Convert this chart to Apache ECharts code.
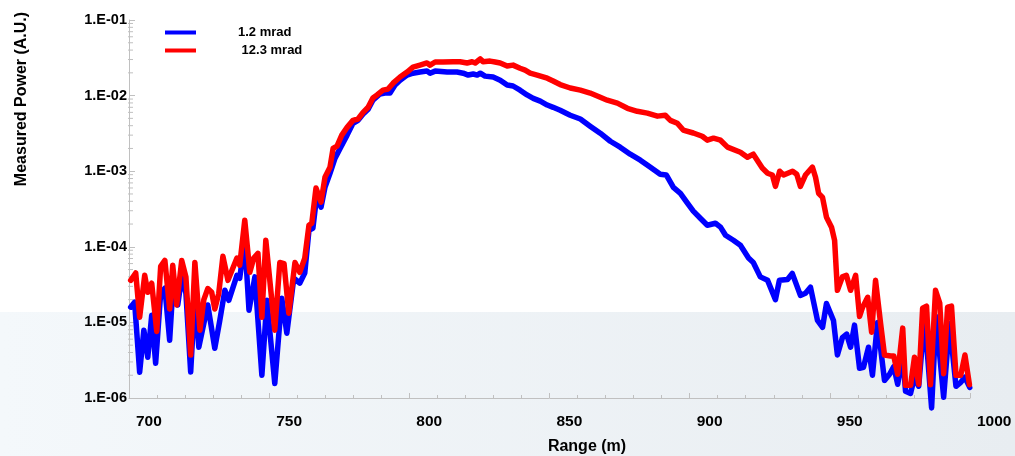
<!DOCTYPE html>
<html>
<head>
<meta charset="utf-8">
<script src="https://cdn.jsdelivr.net/npm/echarts@6/dist/echarts.min.js"></script>
<style>
  html, body { margin: 0; padding: 0; background: #fff; }
  #chart { width: 1015px; height: 456px; }
</style>
</head>
<body>
<div id="chart"></div>
<script>
// Range (m) and measured power (A.U.) for the two beam divergences
const blueRange = [700.6,702.0,703.8,705.3,706.7,708.1,709.5,711.3,712.8,714.5,715.6,717.4,718.8,720.3,722.0,723.5,724.9,728.1,730.6,732.4,734.2,735.6,738.5,739.5,741.3,742.8,744.9,747.4,749.2,752.0,754.5,756.3,758.8,760.9,762.7,764.2,765.6,767.0,768.5,769.9,771.7,773.5,775.3,777.8,779.9,781.7,783.5,785.3,787.0,789.5,791.3,793.1,794.9,796.7,799.2,801.3,803.8,806.3,807.4,809.2,813.5,817.0,819.2,821.0,822.8,824.2,825.3,827.0,829.9,832.4,834.9,837.0,839.5,842.0,844.2,846.7,849.2,851.3,853.8,857.4,861.0,864.5,868.1,871.7,875.2,878.8,882.4,886.0,889.5,891.7,894.2,896.7,899.2,901.3,903.8,906.3,909.2,911.0,912.8,915.6,918.1,921.0,922.7,925.2,927.8,930.6,932.0,934.9,936.6,939.5,941.3,943.1,945.6,947.4,948.8,951.3,952.7,954.5,956.0,957.4,958.8,960.6,962.0,963.8,965.2,967.0,969.5,971.3,972.8,974.2,976.0,977.0,978.8,980.2,981.7,983.8,986.3,987.9,990.6,992.7,995.0,996.7,998.2,999.9];
const bluePower = [1.59e-5,1.85e-5,2.19e-6,7.9e-6,3.46e-6,1.24e-5,2.88e-6,2.43e-5,2.83e-5,5.8e-6,2.66e-5,1.7e-5,4.0e-5,2.43e-5,2.2e-6,2.28e-5,4.7e-6,1.7e-5,4.55e-6,1.07e-5,2.66e-5,1.96e-5,4.2e-5,3.84e-5,1.22e-4,1.45e-5,4.0e-5,2.0e-6,1.96e-5,1.56e-6,2.09e-5,7.2e-6,3.84e-5,3.3e-5,4.5e-5,1.66e-4,1.76e-4,4.8e-4,3.34e-4,6.1e-4,9.4e-4,1.49e-3,2.0e-3,3.0e-3,4.3e-3,4.7e-3,5.7e-3,6.6e-3,8.7e-3,1.05e-2,1.08e-2,1.08e-2,1.38e-2,1.6e-2,1.87e-2,1.98e-2,2.05e-2,2.11e-2,1.98e-2,2.11e-2,2.05e-2,2.05e-2,1.98e-2,1.87e-2,1.93e-2,1.87e-2,1.98e-2,1.81e-2,1.76e-2,1.6e-2,1.38e-2,1.34e-2,1.18e-2,1.02e-2,9.2e-3,8.45e-3,7.5e-3,7.0e-3,6.4e-3,5.5e-3,4.9e-3,3.94e-3,3.18e-3,2.49e-3,2.08e-3,1.68e-3,1.4e-3,1.13e-3,9.1e-4,8.9e-4,6.1e-4,5.1e-4,3.78e-4,2.96e-4,2.39e-4,1.93e-4,2.05e-4,1.82e-4,1.42e-4,1.22e-4,1.05e-4,7.1e-5,6.2e-5,4.0e-5,3.6e-5,2.0e-5,3.6e-5,3.7e-5,4.45e-5,2.28e-5,2.43e-5,2.92e-5,1.06e-5,8.6e-6,1.78e-5,1.06e-5,3.7e-6,6.3e-6,7.0e-6,4.7e-6,9.2e-6,2.47e-6,2.55e-6,4.7e-6,2.0e-6,1.0e-5,1.71e-6,2.06e-6,2.6e-6,1.52e-6,3.7e-6,1.23e-6,1.15e-6,1.88e-6,1.43e-6,1.17e-5,7.4e-7,1.2e-5,1.02e-6,9.7e-6,1.43e-6,1.61e-6,1.88e-6,1.38e-6];

const redRange = [700.6,702.4,703.8,705.6,706.7,708.1,709.9,711.3,712.8,714.5,715.6,717.0,718.8,720.3,722.0,723.5,725.3,726.7,728.1,729.5,730.6,732.0,733.5,735.3,738.5,739.5,741.3,743.1,744.5,746.0,747.4,748.8,752.0,753.8,755.3,757.0,759.2,760.9,762.7,764.2,765.2,766.7,768.5,769.9,771.7,772.8,774.2,775.9,777.8,779.9,781.7,783.5,785.3,787.0,788.5,790.6,792.4,794.2,796.7,799.2,801.3,803.8,806.3,807.4,809.2,812.0,815.6,818.1,820.6,822.4,823.5,825.3,826.3,828.8,830.6,832.4,834.9,837.0,839.5,841.3,843.1,845.6,849.2,851.3,853.8,857.4,861.0,864.5,868.1,870.6,874.2,877.8,881.3,884.9,888.5,891.3,893.1,895.6,897.7,901.3,904.5,906.3,908.5,911.0,913.5,918.1,920.6,922.7,925.9,927.8,929.5,930.6,932.1,933.5,936.7,938.2,939.5,941.3,943.8,944.9,946.0,947.4,948.8,950.6,951.7,952.7,954.5,955.9,957.4,959.2,960.6,961.7,963.5,964.9,966.3,968.1,969.5,971.7,972.8,974.2,976.0,977.0,978.8,980.2,981.7,983.1,984.5,985.9,987.7,989.2,990.6,992.0,993.4,995.0,996.7,998.2,999.8];
const redPower = [3.6e-5,4.5e-5,1.17e-5,4.2e-5,2.5e-5,3.3e-5,7.6e-6,5.5e-5,6.6e-5,1.5e-5,5.7e-5,1.7e-5,6.6e-5,4.0e-5,3.7e-6,6.2e-5,7.9e-6,2.0e-5,2.8e-5,2.5e-5,1.5e-5,2.4e-5,7.5e-5,3.6e-5,7.1e-5,5.7e-5,2.25e-4,4.6e-5,7.1e-5,8.2e-5,1.17e-5,1.22e-4,7.9e-6,6.2e-5,6.0e-5,1.32e-5,6.2e-5,4.6e-5,7.1e-5,1.93e-4,2.05e-4,6.0e-4,3.9e-4,8.3e-4,1.13e-3,2.0e-3,2.15e-3,3.0e-3,3.8e-3,4.7e-3,4.9e-3,6.0e-3,7.0e-3,9.3e-3,1.02e-2,1.18e-2,1.22e-2,1.46e-2,1.76e-2,2.05e-2,2.38e-2,2.53e-2,2.7e-2,2.53e-2,2.78e-2,2.78e-2,2.8e-2,2.8e-2,2.7e-2,2.8e-2,2.7e-2,3.05e-2,2.8e-2,2.86e-2,2.78e-2,2.7e-2,2.46e-2,2.53e-2,2.3e-2,2.17e-2,1.98e-2,1.87e-2,1.7e-2,1.56e-2,1.4e-2,1.26e-2,1.18e-2,1.08e-2,9.5e-3,8.7e-3,7.95e-3,6.8e-3,6.2e-3,5.86e-3,5.35e-3,5.5e-3,4.7e-3,4.3e-3,3.5e-3,3.2e-3,2.9e-3,2.57e-3,2.73e-3,2.57e-3,2.08e-3,1.78e-3,1.53e-3,1.68e-3,1.1e-3,9.4e-4,8.9e-4,6.3e-4,1.0e-3,8.9e-4,1.0e-3,9.1e-4,6.3e-4,8.9e-4,1.13e-3,8.3e-4,5.1e-4,4.5e-4,2.46e-4,1.82e-4,1.22e-4,2.66e-5,4.0e-5,4.2e-5,2.66e-5,4.2e-5,1.2e-5,1.59e-5,2.15e-5,7.4e-6,3.6e-5,9.7e-6,3.7e-6,3.6e-6,3.6e-6,2.06e-6,8.4e-6,1.47e-6,1.47e-6,3.46e-6,1.52e-6,1.54e-5,1.64e-5,1.5e-6,2.66e-5,1.8e-5,2.1e-6,1.59e-5,1.64e-5,2.0e-6,2.0e-6,3.7e-6,1.5e-6];

const seriesNames = ['1.2 mrad', '12.3 mrad'];
const rangeTicks = [700, 750, 800, 850, 900, 950, 1000];
const powerDecades = [-6, -5, -4, -3, -2, -1];

const FONT = '"Liberation Sans", Arial, sans-serif';
const AXIS_GRAY = '#c0c0c0';

const zip = (xs, ys) => xs.map((x, i) => [x, ys[i]]);

// logarithmic minor ticks (2..9 within each decade) for the power axis
const logMinorTicks = [];
for (let i = 0; i < powerDecades.length - 1; i++) {
  for (let m = 2; m <= 9; m++) {
    logMinorTicks.push([rangeTicks[0], m * Math.pow(10, powerDecades[i])]);
  }
}

const chart = echarts.init(document.getElementById('chart'), null, { renderer: 'canvas' });

chart.setOption({
  animation: false,
  backgroundColor: '#ffffff',
  textStyle: { fontFamily: FONT },
  grid: { left: 129, right: 45, top: 20, bottom: 58, containLabel: false },
  graphic: [
    {
      type: 'rect',
      left: 0,
      top: 312,
      z: -100,
      silent: true,
      shape: { width: 1015, height: 144 },
      style: {
        fill: new echarts.graphic.LinearGradient(0, 0, 1, 0, [
          { offset: 0, color: '#f4f8fb' },
          { offset: 1, color: '#e8edf1' }
        ])
      }
    },
    {
      type: 'text',
      x: 22,
      y: 99,
      rotation: Math.PI / 2,
      silent: true,
      style: {
        text: 'Measured Power (A.U.)',
        font: 'bold 16px ' + FONT,
        fill: '#000',
        align: 'center',
        verticalAlign: 'middle'
      }
    },
    {
      type: 'text',
      x: 587,
      y: 447,
      silent: true,
      style: {
        text: 'Range (m)',
        font: 'bold 16px ' + FONT,
        fill: '#000',
        align: 'center',
        verticalAlign: 'middle'
      }
    }
  ],
  legend: {
    data: seriesNames,
    orient: 'vertical',
    left: 165,
    top: 25,
    padding: 0,
    icon: 'rect',
    itemWidth: 31,
    itemHeight: 4,
    itemGap: 3,
    formatter: name => (name === seriesNames[1] ? ' ' + name : name),
    textStyle: {
      fontFamily: FONT,
      fontWeight: 'bold',
      fontSize: 13,
      color: '#000',
      lineHeight: 15,
      padding: [0, 0, 0, 37]
    }
  },
  xAxis: {
    type: 'value',
    min: rangeTicks[0],
    max: rangeTicks[rangeTicks.length - 1],
    interval: rangeTicks[1] - rangeTicks[0],
    splitLine: { show: false },
    axisLine: { show: true, lineStyle: { color: AXIS_GRAY, width: 1 } },
    axisTick: { show: true, inside: true, length: 5, lineStyle: { color: AXIS_GRAY } },
    minorTick: { show: true, splitNumber: 5, length: 3, lineStyle: { color: AXIS_GRAY } },
    axisLabel: {
      color: '#000',
      fontFamily: FONT,
      fontWeight: 'bold',
      fontSize: 15.5,
      margin: 16,
      align: 'left',
      padding: [0, 0, 0, 7],
      formatter: v => String(v)
    }
  },
  yAxis: {
    type: 'log',
    logBase: 10,
    min: Math.pow(10, powerDecades[0]),
    max: Math.pow(10, powerDecades[powerDecades.length - 1]),
    splitLine: { show: false },
    axisLine: { show: true, lineStyle: { color: AXIS_GRAY, width: 1 } },
    axisTick: { show: true, inside: true, length: 6, lineStyle: { color: AXIS_GRAY } },
    axisLabel: {
      color: '#000',
      fontFamily: FONT,
      fontWeight: 'bold',
      fontSize: 14.5,
      margin: 2,
      formatter: v => {
        const e = Math.round(Math.log10(v));
        return '1.E-' + String(-e).padStart(2, '0');
      }
    }
  },
  series: [
    {
      name: 'minor-ticks',
      type: 'custom',
      silent: true,
      data: logMinorTicks,
      z: 1,
      renderItem: (params, api) => {
        const p = api.coord([api.value(0), api.value(1)]);
        return {
          type: 'line',
          shape: { x1: p[0] - 1, y1: p[1], x2: p[0] + 4, y2: p[1] },
          style: { stroke: AXIS_GRAY, lineWidth: 1 }
        };
      }
    },
    {
      name: seriesNames[0],
      type: 'line',
      data: zip(blueRange, bluePower),
      showSymbol: false,
      symbol: 'none',
      clip: false,
      color: '#0000ff',
      lineStyle: { color: '#0000ff', width: 5.5, join: 'round', cap: 'round' },
      z: 3
    },
    {
      name: seriesNames[1],
      type: 'line',
      data: zip(redRange, redPower),
      showSymbol: false,
      symbol: 'none',
      clip: false,
      color: '#ff0000',
      lineStyle: { color: '#ff0000', width: 5.5, join: 'round', cap: 'round' },
      z: 4
    }
  ]
});
</script>
</body>
</html>
